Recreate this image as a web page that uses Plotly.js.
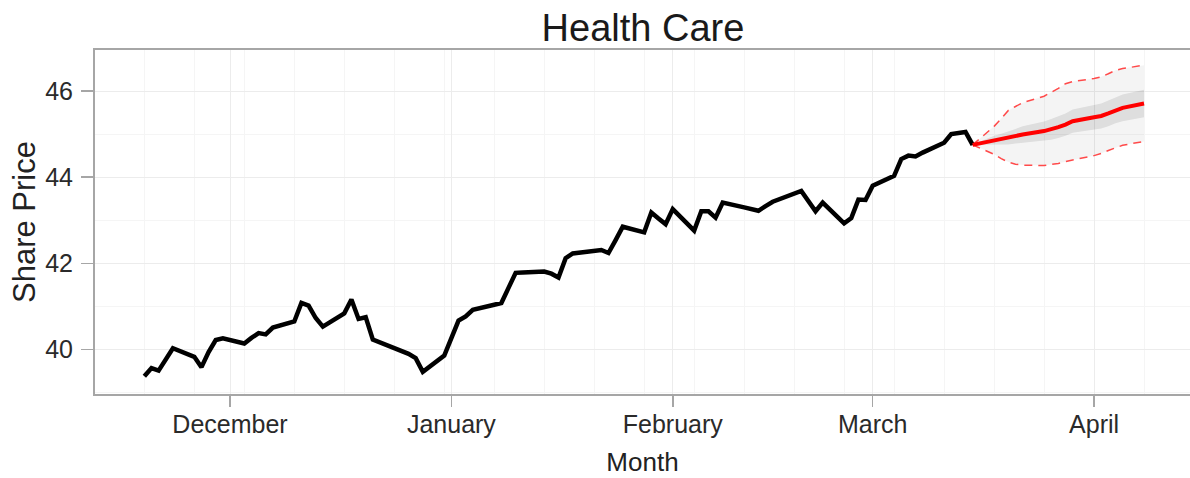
<!DOCTYPE html>
<html>
<head>
<meta charset="utf-8">
<script src="https://cdn.plot.ly/plotly-3.0.1.min.js"></script>
<style>html,body{margin:0;padding:0;background:#fff;}#chart{width:1190px;height:478px;}</style>
</head>
<body>
<div id="chart"></div>
<script>
// Observed share prices (trading days)
const histDates = [
  '2012-11-19','2012-11-20','2012-11-21','2012-11-23','2012-11-26','2012-11-27','2012-11-28','2012-11-29','2012-11-30',
  '2012-12-03','2012-12-04','2012-12-05','2012-12-06','2012-12-07','2012-12-10','2012-12-11','2012-12-12','2012-12-13','2012-12-14',
  '2012-12-17','2012-12-18','2012-12-19','2012-12-20','2012-12-21','2012-12-24','2012-12-26','2012-12-27','2012-12-28','2012-12-31',
  '2013-01-02','2013-01-03','2013-01-04','2013-01-07','2013-01-08','2013-01-09','2013-01-10','2013-01-11',
  '2013-01-14','2013-01-15','2013-01-16','2013-01-17','2013-01-18','2013-01-22','2013-01-23','2013-01-24','2013-01-25',
  '2013-01-28','2013-01-29','2013-01-30','2013-01-31','2013-02-01','2013-02-04','2013-02-05','2013-02-06','2013-02-07','2013-02-08',
  '2013-02-11','2013-02-12','2013-02-13','2013-02-14','2013-02-15','2013-02-19','2013-02-20','2013-02-21','2013-02-22',
  '2013-02-25','2013-02-26','2013-02-27','2013-02-28','2013-03-01','2013-03-04','2013-03-05','2013-03-06','2013-03-07','2013-03-08',
  '2013-03-11','2013-03-12','2013-03-13','2013-03-14','2013-03-15'
];
const histPrice = [
  39.38,39.57,39.51,40.03,39.83,39.59,39.94,40.22,40.26,
  40.14,40.27,40.38,40.35,40.51,40.65,41.08,41.02,40.73,40.53,
  40.84,41.16,40.71,40.75,40.23,40.03,39.90,39.80,39.48,39.86,
  40.67,40.77,40.92,41.04,41.08,41.43,41.78,41.79,
  41.81,41.76,41.67,42.12,42.23,42.31,42.24,42.54,42.85,
  42.72,43.18,43.04,42.91,43.26,42.76,43.21,43.21,43.06,43.41,
  43.30,43.25,43.22,43.33,43.43,43.68,43.43,43.21,43.41,
  42.93,43.05,43.48,43.47,43.80,44.03,44.42,44.50,44.48,44.57,
  44.80,45.00,45.03,45.05,44.75
];

// Forecast
const fcDates = [
  '2013-03-15','2013-03-18','2013-03-19','2013-03-20','2013-03-21','2013-03-22',
  '2013-03-25','2013-03-26','2013-03-27','2013-03-28','2013-03-29',
  '2013-04-01','2013-04-02','2013-04-03','2013-04-04','2013-04-05','2013-04-08'
];
const fcMean = [44.75,44.86,44.88,44.91,44.95,44.99,45.07,45.11,45.16,45.22,45.30,45.39,45.42,45.48,45.55,45.61,45.71];
const fcLo50 = [44.75,44.76,44.75,44.76,44.78,44.80,44.85,44.87,44.91,44.96,45.03,45.11,45.13,45.18,45.25,45.30,45.39];
const fcHi50 = [44.75,44.96,45.01,45.06,45.12,45.18,45.29,45.35,45.41,45.48,45.57,45.67,45.71,45.78,45.85,45.92,46.03];
const fcLo95 = [44.75,44.53,44.43,44.35,44.30,44.28,44.27,44.29,44.32,44.36,44.40,44.50,44.55,44.62,44.68,44.74,44.83];
const fcHi95 = [44.75,45.18,45.36,45.55,45.64,45.73,45.88,45.97,46.06,46.17,46.22,46.29,46.33,46.40,46.48,46.52,46.60];

// Axis ticks
const monthTickVals = ['2012-12-01','2013-01-01','2013-02-01','2013-03-01','2013-04-01'];
const monthTickText = ['December','January','February','March','April'];
const priceTickVals = [40,42,44,46];

const FONT = 'Liberation Sans, Arial, Helvetica, sans-serif';

const traces = [
  {x: fcDates, y: fcLo95, type:'scatter', mode:'lines', line:{width:0, color:'rgba(0,0,0,0)'}, hoverinfo:'skip', showlegend:false},
  {x: fcDates, y: fcHi95, type:'scatter', mode:'lines', fill:'tonexty', fillcolor:'rgba(0,0,0,0.045)', line:{width:0, color:'rgba(0,0,0,0)'}, hoverinfo:'skip', showlegend:false},
  {x: fcDates, y: fcLo50, type:'scatter', mode:'lines', line:{width:0, color:'rgba(0,0,0,0)'}, hoverinfo:'skip', showlegend:false},
  {x: fcDates, y: fcHi50, type:'scatter', mode:'lines', fill:'tonexty', fillcolor:'rgba(0,0,0,0.09)', line:{width:0, color:'rgba(0,0,0,0)'}, hoverinfo:'skip', showlegend:false},
  {x: fcDates, y: fcHi95, type:'scatter', mode:'lines', line:{width:1.5, color:'#ff4a4a', dash:'8px,6px'}, showlegend:false},
  {x: fcDates, y: fcLo95, type:'scatter', mode:'lines', line:{width:1.5, color:'#ff4a4a', dash:'8px,6px'}, showlegend:false},
  {x: histDates, y: histPrice, type:'scatter', mode:'lines', line:{width:4.5, color:'#000000'}, showlegend:false},
  {x: fcDates, y: fcMean, type:'scatter', mode:'lines', line:{width:4, color:'#ff0000'}, showlegend:false}
];

const layout = {
  width: 1190, height: 478,
  margin: {l:95, r:0, t:50, b:84, pad:0},
  paper_bgcolor:'#ffffff', plot_bgcolor:'#ffffff',
  font: {family: FONT, color:'#222222'},
  title: {text:'Health Care', font:{size:38, color:'#1a1a1a', family:FONT}, x:0.5403, xanchor:'center', y:0.942, yanchor:'middle', yref:'container'},
  showlegend:false,
  xaxis: {
    type:'date',
    range:['2012-11-12 02:10','2013-04-14 10:30'],
    tickmode:'array', tickvals: monthTickVals, ticktext: monthTickText,
    ticks:'outside', ticklen:11, tickwidth:1.5, tickcolor:'#a6a6a6',
    tickfont:{size:25, color:'#2a2a2a'}, ticklabelstandoff:-4,
    showgrid:true, gridcolor:'#ececec', gridwidth:1,
    minor:{tickmode:'linear', tick0:'2012-11-19', dtick:604800000, showgrid:true, gridcolor:'#f5f5f5', gridwidth:1, ticks:''},
    showline:true, linecolor:'#a6a6a6', linewidth:2, mirror:true,
    zeroline:false,
    title:{text:'Month', font:{size:26, color:'#222222'}, standoff:16}
  },
  yaxis: {
    range:[38.967, 46.952],
    tickmode:'array', tickvals: priceTickVals,
    ticks:'outside', ticklen:12, tickwidth:1.5, tickcolor:'#a6a6a6',
    tickfont:{size:25, color:'#2a2a2a'}, ticklabelstandoff:3,
    showgrid:true, gridcolor:'#ececec', gridwidth:1,
    minor:{tickmode:'linear', tick0:39, dtick:1, showgrid:true, gridcolor:'#f5f5f5', gridwidth:1, ticks:''},
    showline:true, linecolor:'#a6a6a6', linewidth:2, mirror:false,
    zeroline:false,
    title:{text:'Share Price', font:{size:31, color:'#222222'}, standoff:0}
  }
};

Plotly.newPlot('chart', traces, layout, {staticPlot:true, displayModeBar:false});
</script>
</body>
</html>
